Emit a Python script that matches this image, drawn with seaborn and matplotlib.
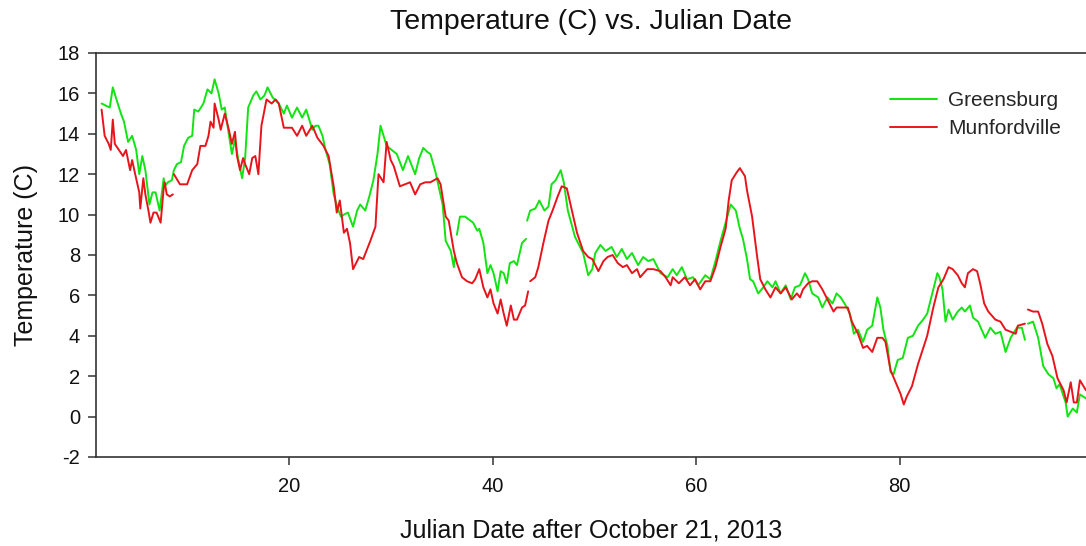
import numpy as np
import pandas as pd
import matplotlib
matplotlib.use("Agg")
import matplotlib.pyplot as plt
import seaborn as sns

nan = np.nan

# Greensburg: day after Oct 21, 2013 and temperature (C); NaN marks a gap in the record
greensburg_day = [
    1.6, 2.0, 2.4, 2.7, 3.0, 3.5, 3.8, 4.2, 4.6, 5.0, 5.3, 5.6, 5.9, 6.3, 6.6, 6.9, 7.3, 7.7, 7.8, 8.1,
    8.5, 8.7, 9.0, 9.4, 9.7, 10.1, 10.5, 10.7, 11.1, 11.6, 12.0, 12.4, 12.7, 13.1, 13.4, 13.7, 14.0, 14.4,
    14.7, 15.0, 15.4, 15.7, 16.0, 16.5, 16.8, 17.2, 17.6, 17.9, 18.4, 19.0, 19.5, 19.8, 20.3, 20.8, 21.3,
    21.7, 22.3, 22.6, 22.9, 23.3, 23.6, 24.0, 24.4, 24.8, 25.1, 25.4, 25.8, 26.3, 26.7, 27.0, 27.5, 27.9,
    28.3, 28.7, 29.0, 29.3, 29.6, 30.1, 30.6, 31.2, 31.7, 32.4, 32.8, 33.2, 33.6, 33.9, 34.4, 35.1, 35.4,
    35.9, 36.2, 36.3, nan,
    36.5, 36.8, 37.3, 38.1, 38.5, 38.7, 39.1, 39.5, 39.8, 40.1, 40.5, 40.8, 41.1, 41.4, 41.7, 42.1, 42.4,
    42.9, 43.3, nan,
    43.4, 43.7, 44.2, 44.6, 45.1, 45.5, 45.8, 46.2, 46.7, 47.0, 47.4, 48.1, 48.9, 49.4, 49.8, 50.1, 50.6,
    51.1, 51.7, 52.2, 52.7, 53.2, 53.7, 54.3, 54.8, 55.3, 55.8, 56.5, 57.2, 57.7, 58.1, 58.6, 59.1, 59.7,
    60.2, 60.9, 61.4, 61.9, 62.4, 62.9, 63.4, 63.9, 64.3, 64.6, 65.0, 65.3, 65.6, 66.1, 66.6, 67.0, 67.5,
    67.8, 68.3, 68.8, 69.3, 69.7, 70.2, 70.7, 71.0, 71.4, 72.0, 72.4, 72.9, 73.4, 73.8, 74.2, 74.7, 75.1,
    75.5, 75.9, 76.4, 76.8, 77.3, 77.8, 78.1, 78.4, 78.8, 79.1, 79.4, 79.8, 80.3, 80.5, 80.8, 81.3, 81.8,
    82.3, 82.7, 83.2, 83.7, 83.9, 84.2, 84.5, 84.8, 85.2, 85.7, 86.1, 86.4, 86.9, 87.2, 87.7, 88.4, 88.9,
    89.4, 89.9, 90.4, 90.9, 91.5, 92.0, 92.3, nan,
    92.6, 93.1, 93.6, 94.1, 94.6, 95.1, 95.4, 95.7, 96.3, 96.5, 97.0, 97.4, 97.7, 98.3,
]
greensburg_temp = [
    15.5, 15.4, 15.3, 16.3, 15.8, 15.0, 14.6, 13.6, 13.9, 13.2, 12.0, 12.9, 12.2, 10.5, 11.1, 11.1, 10.2, 11.8, 11.4, 11.6,
    11.7, 12.2, 12.5, 12.6, 13.4, 13.8, 13.9, 15.2, 15.1, 15.5, 16.2, 16.0, 16.7, 16.0, 15.2, 15.3, 14.3, 13.0,
    13.7, 12.8, 11.8, 12.8, 15.3, 15.9, 16.1, 15.7, 15.9, 16.3, 15.8, 15.5, 15.0, 15.4, 14.8, 15.3, 14.8,
    15.2, 14.2, 14.4, 14.4, 13.9, 13.2, 12.5, 11.0, 10.3, 9.9, 10.0, 10.1, 9.4, 10.2, 10.5, 10.2, 10.9,
    11.7, 13.0, 14.4, 13.9, 13.4, 13.2, 13.0, 12.2, 12.9, 12.0, 12.8, 13.3, 13.1, 13.0, 12.1, 10.5, 8.7,
    8.2, 7.4, 7.9, nan,
    9.0, 9.9, 9.9, 9.6, 9.2, 9.3, 8.6, 7.1, 7.5, 7.1, 6.2, 7.2, 7.1, 6.6, 7.6, 7.7, 7.5,
    8.6, 8.8, nan,
    9.7, 10.2, 10.3, 10.7, 10.2, 10.4, 11.5, 11.7, 12.2, 11.6, 10.2, 8.9, 8.1, 7.0, 7.3, 8.1, 8.5,
    8.2, 8.4, 7.9, 8.3, 7.8, 8.1, 7.5, 7.9, 7.7, 7.8, 7.1, 6.9, 7.3, 7.0, 7.4, 6.8, 6.9,
    6.5, 7.0, 6.8, 7.7, 8.7, 9.6, 10.5, 10.2, 9.3, 8.8, 7.8, 6.8, 6.7, 6.1, 6.4, 6.7, 6.4,
    6.7, 6.1, 6.5, 5.8, 6.4, 6.5, 7.1, 6.8, 6.1, 5.9, 5.4, 5.9, 5.6, 6.1, 5.9, 5.5, 5.1,
    4.1, 4.3, 3.7, 4.3, 4.5, 5.9, 5.4, 4.3, 3.5, 2.2, 2.1, 2.8, 2.9, 3.3, 3.9, 4.0, 4.5,
    4.8, 5.1, 6.1, 7.1, 6.9, 6.3, 4.7, 5.3, 4.8, 5.2, 5.4, 5.2, 5.5, 4.9, 4.7, 3.9, 4.4,
    4.1, 4.2, 3.2, 3.9, 4.4, 4.4, 3.8, nan,
    4.6, 4.7, 3.9, 2.5, 2.1, 1.9, 1.4, 1.6, 0.7, 0.0, 0.4, 0.2, 1.1, 0.9,
]

# Munfordville: day after Oct 21, 2013 and temperature (C); NaN marks a gap in the record
munfordville_day = [
    1.6, 1.9, 2.3, 2.5, 2.7, 2.9, 3.3, 3.7, 4.0, 4.4, 4.6, 4.9, 5.3, 5.4, 5.7, 5.9, 6.2, 6.4, 6.7, 7.0,
    7.4, 7.7, 7.8, 8.0, 8.3, 8.6, nan,
    8.7, 9.3, 10.0, 10.5, 11.0, 11.3, 11.8, 12.1, 12.3, 12.6, 12.7, 13.1, 13.3, 13.7, 14.1, 14.4, 14.7,
    14.9, 15.2, 15.5, 15.7, 16.1, 16.4, 16.7, 17.0, 17.3, 17.8, 18.3, 18.7, 19.0, 19.5, 19.8, 20.3, 20.8,
    21.3, 21.7, 22.3, 22.8, 23.4, 23.9, 24.4, 24.7, 25.0, 25.4, 25.7, 26.0, 26.3, 26.9, 27.3, 28.0, 28.5,
    28.8, 29.3, 29.6, 30.0, 30.3, 30.9, 31.4, 31.9, 32.4, 32.9, 33.4, 33.9, 34.6, 34.9, 35.4, 35.7, 36.2,
    36.5, 37.0, 37.5, 38.0, 38.3, 38.7, 39.1, 39.5, 39.8, 40.1, 40.5, 40.8, 41.1, 41.4, 41.8, 42.1, 42.4,
    42.9, 43.2, 43.5, nan,
    43.7, 44.2, 44.5, 45.0, 45.5, 45.9, 46.4, 46.8, 47.3, 47.8, 48.3, 48.9, 49.4, 49.8, 50.4, 50.9, 51.3,
    51.8, 52.3, 52.8, 53.2, 53.7, 54.2, 54.5, 55.2, 55.8, 56.5, 57.0, 57.5, 57.7, 58.3, 58.9, 59.4, 59.9,
    60.4, 60.9, 61.4, 61.9, 62.4, 62.9, 63.2, 63.5, 64.0, 64.3, 64.8, 65.0, 65.5, 66.0, 66.3, 66.8, 67.3,
    67.8, 68.3, 68.8, 69.4, 69.9, 70.2, 70.5, 71.0, 71.4, 71.9, 72.4, 72.9, 73.2, 73.5, 73.8, 74.4, 74.9,
    75.3, 75.6, 75.9, 76.4, 76.8, 77.3, 77.8, 78.3, 78.6, 79.1, 79.6, 80.1, 80.4, 80.7, 81.2, 81.8, 82.7,
    83.3, 83.8, 84.3, 84.8, 85.2, 85.7, 86.1, 86.4, 86.7, 87.2, 87.6, 87.9, 88.3, 88.7, 89.4, 89.9, 90.4,
    90.9, 91.4, 91.6, 92.3, nan,
    92.6, 93.1, 93.6, 94.0, 94.5, 95.0, 95.5, 95.7, 96.1, 96.4, 96.8, 97.1, 97.4, 97.7, 98.3,
]
munfordville_temp = [
    15.2, 13.9, 13.5, 13.2, 14.7, 13.5, 13.2, 12.9, 13.2, 12.2, 12.7, 12.0, 11.1, 10.3, 11.8, 11.0, 10.2, 9.6, 10.1, 10.1,
    9.6, 11.3, 11.6, 11.0, 10.9, 11.0, nan,
    12.0, 11.5, 11.5, 12.2, 12.5, 13.4, 13.4, 13.9, 14.6, 14.3, 15.5, 14.7, 14.2, 15.0, 14.2, 13.5, 14.1,
    12.9, 12.2, 12.8, 12.5, 12.0, 12.8, 12.9, 12.0, 14.4, 15.7, 15.5, 15.7, 15.5, 14.3, 14.3, 14.3, 13.9,
    14.4, 13.9, 14.4, 13.8, 13.4, 12.9, 11.4, 10.1, 10.7, 9.1, 9.3, 8.6, 7.3, 7.9, 7.8, 8.7, 9.4,
    12.0, 11.6, 13.6, 12.7, 12.4, 11.4, 11.5, 11.6, 11.0, 11.5, 11.6, 11.6, 11.8, 11.5, 9.9, 9.7, 8.2,
    7.6, 6.9, 6.7, 6.6, 6.8, 7.3, 6.4, 5.9, 6.3, 5.6, 5.1, 5.8, 5.1, 4.5, 5.5, 4.8, 4.8,
    5.4, 5.5, 6.2, nan,
    6.7, 6.9, 7.4, 8.6, 9.7, 10.2, 10.9, 11.4, 11.3, 10.2, 9.1, 8.2, 7.9, 7.8, 7.2, 7.7, 7.9,
    8.0, 7.6, 7.4, 7.5, 7.1, 7.3, 6.9, 7.3, 7.3, 7.2, 6.9, 6.5, 6.9, 6.6, 6.9, 6.5, 6.8,
    6.3, 6.7, 6.7, 7.4, 8.4, 9.3, 10.7, 11.7, 12.1, 12.3, 11.9, 11.2, 9.9, 7.9, 6.8, 6.3, 5.9,
    6.4, 6.1, 6.4, 5.8, 6.1, 5.9, 6.3, 6.6, 6.7, 6.7, 6.3, 5.8, 5.5, 5.2, 5.4, 5.4, 5.4,
    4.7, 4.4, 4.1, 3.4, 3.5, 3.2, 3.9, 3.9, 3.7, 2.3, 1.7, 1.1, 0.6, 1.0, 1.5, 2.6, 4.0,
    5.4, 6.4, 6.8, 7.4, 7.3, 7.0, 6.6, 6.4, 7.1, 7.3, 7.2, 6.6, 5.6, 5.2, 4.8, 4.7, 4.3,
    4.2, 4.1, 4.5, 4.6, nan,
    5.3, 5.2, 5.2, 4.6, 3.6, 3.0, 1.9, 1.7, 1.3, 0.7, 1.7, 0.7, 0.7, 1.8, 1.3,
]

sites = ["Greensburg", "Munfordville"]
site_colors = {"Greensburg": "#12e312", "Munfordville": "#e8141c"}
y_ticks = [-2, 0, 2, 4, 6, 8, 10, 12, 14, 16, 18]
x_ticks = [20, 40, 60, 80]


def to_frame(site, days, temps):
    d = np.asarray(days, dtype=float)
    t = np.asarray(temps, dtype=float)
    seg = np.cumsum(np.isnan(d))  # a new run starts after each gap
    df = pd.DataFrame({"day": d, "temp": t, "seg": seg, "site": site})
    df = df.dropna()
    df["run"] = df["site"] + "_" + df["seg"].astype(str)
    return df


data = pd.concat([
    to_frame("Greensburg", greensburg_day, greensburg_temp),
    to_frame("Munfordville", munfordville_day, munfordville_temp),
], ignore_index=True)

sns.set_theme(style="ticks")
plt.rcParams["font.family"] = ["Liberation Sans", "DejaVu Sans"]
plt.rcParams["axes.unicode_minus"] = False

fig = plt.figure(figsize=(10.86, 5.46), dpi=100)
ax = fig.add_axes([96 / 1086, (546 - 457) / 546, 1 - 96 / 1086, (457 - 53) / 546])

sns.lineplot(
    data=data, x="day", y="temp", hue="site", units="run", estimator=None,
    hue_order=sites, palette=site_colors, linewidth=1.4, sort=False, ax=ax,
)

ax.set_xlim(1.05, 98.3)
ax.set_ylim(-2, 18)
ax.set_xticks(x_ticks)
ax.set_yticks(y_ticks)
ax.tick_params(axis="both", direction="out", length=5.5, width=1.1, color="#333333",
               labelsize=14.5, labelcolor="#111111")
ax.tick_params(axis="y", pad=6)
ax.tick_params(axis="x", pad=9)

for side in ("left", "top", "bottom"):
    ax.spines[side].set_visible(True)
    ax.spines[side].set_color("#333333")
    ax.spines[side].set_linewidth(1.2)
ax.spines["right"].set_visible(False)

ax.set_title("Temperature (C) vs. Julian Date", fontsize=20.5, color="#111111", pad=17)
ax.set_xlabel("Julian Date after October 21, 2013", fontsize=18, color="#111111", labelpad=16)
ax.set_ylabel("Temperature (C)", fontsize=18, color="#111111", labelpad=14)

handles, labels = ax.get_legend_handles_labels()
ax.legend(handles, labels, loc="upper left", bbox_to_anchor=(0.802, 0.905),
          frameon=False, fontsize=15, handlelength=2.25, handletextpad=0.55,
          labelspacing=0.42, borderpad=0, borderaxespad=0)

fig.savefig("out.png", dpi=100)
